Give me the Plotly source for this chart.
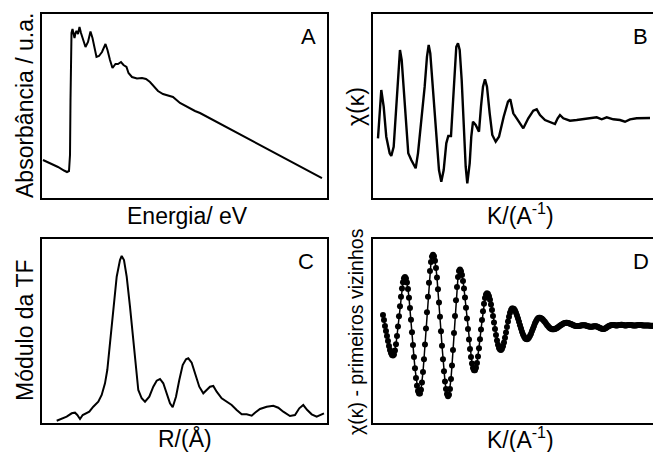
import plotly.graph_objects as go

# ---------------- data (arbitrary units) ----------------
# Panel A: X-ray absorption spectrum
energia = [1, 8, 16, 22, 25, 27, 28, 28.5, 29, 29.5, 30.5, 31.5, 32.5, 33.5, 34.5, 36, 37.5, 39, 41, 43.5,
           46, 48.5, 50.5, 52.5, 54.5, 57, 60, 63.5, 65.5, 68, 70.5, 73.5, 76, 79, 81.5, 84.5, 86.5, 90, 95, 100,
           104, 108, 112, 116, 121, 126, 131, 138, 145, 153, 158, 175, 191, 208, 225, 242, 258, 280]
absorbancia = [38, 35, 31, 27.5, 26, 27, 43, 98, 153, 165, 169, 165, 160, 165, 167, 164, 171, 165, 158, 151,
               156, 166.5, 160, 150, 141, 142, 146, 154, 148, 138, 130, 134, 134, 136, 133, 131, 125, 121, 119.5, 120,
               119, 116, 111, 107, 104, 102.5, 101, 95, 91, 87, 85, 76, 67.5, 58.5, 49.5, 40, 31.5, 20]

# Panel B: chi(k)
k_b = [5, 8.3, 10.7, 13.3, 16.7, 18.3, 20.7, 23.3, 25.3, 27, 28.7, 30.7, 33.3, 35.3, 38.3, 40.7, 42.7, 45, 48.3, 51.7,
       54, 55.7, 57.3, 60, 63.3, 66, 68.3, 70.7, 73.3, 75.3, 78, 79.3, 81.3, 83.3, 85, 86.7, 88.7, 90.7, 92.7, 94.3,
       96.7, 98.3, 100, 102.7, 106, 108, 110, 112, 114, 116.7, 119.3, 122.7, 126, 130.7, 135, 137.3, 140.3, 143.7, 147, 150.3,
       155.3, 160.3, 163.7, 167, 172, 177, 182, 184.7, 187, 190.3, 197, 203.7, 210.3, 217, 223.7, 228.7, 233.7, 240.3, 247, 252,
       257, 263.7, 272, 277]
chi_b = [59.7, 108, 91.3, 61.3, 44.7, 42, 51.3, 91.3, 128, 148, 138, 108, 68, 44.7, 38, 33, 29.7, 44.7, 74.7, 111.3,
         141.3, 153, 144.7, 108, 64.7, 28, 16.3, 28, 54.7, 62, 62, 84.7, 128, 151.3, 154.7, 148, 118, 71.3, 31.3, 14.7,
         34.7, 61.3, 76.3, 73, 66.3, 91.3, 111.3, 118.7, 111.3, 84.7, 63, 56.3, 61.3, 81.3, 96.3, 98.7, 84.7, 79.7, 74.7, 69.7,
         79.7, 87.3, 88.7, 83, 78, 76.3, 74, 79.7, 83, 79.7, 77.3, 78, 78.7, 79.3, 80.7, 78.7, 80.7, 78.7, 78, 76.3,
         78.7, 79.7, 80.3, 80]

# Panel C: modulus of the Fourier transform
r_c = [14.7, 19.7, 24.7, 29.7, 33, 35.3, 38, 40.7, 44, 47.3, 51.3, 56.3, 59.7, 63, 65.3, 68, 71.3, 74.7, 78, 79.7,
       82, 84.7, 88, 91.3, 94, 96.3, 99.7, 103, 107.3, 111.3, 114.7, 118, 121.3, 124.7, 128, 130.7, 134, 137.3, 140.7, 144,
       146.3, 149.7, 153, 157.3, 161.3, 164.7, 168, 171.3, 174.7, 179.7, 184.7, 189.7, 194.7, 199.7, 204.7, 209.7, 213, 218, 224.7, 231.3,
       236.3, 241.3, 248, 253, 257.3, 261.3, 265.3, 269.7, 274.7, 278.7, 282]
modulo_tf = [2.3, 4.7, 6.3, 9.7, 10.3, 8, 4, 8, 9.7, 11.3, 16.3, 21.3, 28, 39.7, 53, 79.7, 116.3, 146.3, 163, 167,
             163, 146.3, 116.3, 83, 53, 33, 24.7, 21.3, 26.3, 36.3, 42.3, 44, 39.7, 29.7, 19.7, 15.7, 26.3, 43, 58, 63.7,
             64.7, 60.3, 49.7, 36.3, 29.7, 33, 36.3, 37, 31.3, 24.7, 21.3, 18, 13, 8.7, 8.7, 7.3, 10.3, 14, 16.3, 17.3,
             15.3, 11.3, 7, 8, 14.7, 18, 13, 8.7, 6.3, 8, 9.7]

# Panel D: chi(k) of first neighbours (one value per k step, k starting at 10)
chi_d = [108, 103, 97, 92, 87, 82, 77, 73, 70, 68, 67.5,
         68.6, 72.6, 78.8, 87, 96.5, 106.7, 116.8, 126.3, 134.5, 140.7, 144.7, 146,
         144.6, 140.6, 134.1, 125.3, 114.9, 103.2, 90.7, 78, 65.9, 54.7, 45, 37.3, 32, 29.4,
         29.5, 33.2, 40.4, 50.9, 63.8, 78.6, 94.6, 110.8, 126.2, 140.3, 152, 160.9, 166.5, 168.3,
         166.8, 162.3, 155.1, 145.4, 133.8, 120.4, 106.3, 91.7, 77.3, 63.8, 51.7, 41.6, 33.9, 28.9, 26.7,
         28.2, 34.1, 44.1, 57.4, 73.1, 90.1, 107.1, 122.8, 136.1, 146.1, 152,
         153.5, 151.8, 148, 142.1, 134.5, 125.4, 115.3, 104.6, 93.9, 83.5, 74.1, 66, 59.5, 55.1, 52.8,
         52.8, 55.2, 59.9, 66.5, 74.7, 83.8, 93.5, 103, 111.8, 119.2, 124.9, 128.5, 129.7,
         129, 126.8, 123.3, 118.6, 113, 106.9, 100.4, 94, 87.9, 82.6, 78.3, 75.1, 73.4,
         73.1, 74.2, 76.8, 80.5, 85.2, 90.5, 96.1, 101.5, 106.2, 110.2, 113.1, 114.5,
         114.6, 113.9, 112.4, 110.3, 107.6, 104.6, 101.3, 97.8, 94.5, 91.3, 88.6, 86.4, 84.8, 83.9,
         83.7, 84.3, 85.4, 87.2, 89.3, 91.9, 94.5, 97.1, 99.7, 101.8, 103.6, 104.7, 105.3,
         105.2, 104.8, 104.2, 103.3, 102.1, 100.9, 99.5, 98.1, 96.9, 95.8, 94.8, 94.2, 93.8,
         93.7, 93.8, 94.1, 94.5, 95.1, 95.7, 96.5, 97.2, 97.9, 98.6, 99.2, 99.7, 100.1, 100.3,
         100.2, 100, 99.7, 99.3, 98.9, 98.4, 98, 97.6, 97.3, 97.1,
         97, 97, 97.1, 97.3, 97.5, 97.7, 97.8, 97.8, 97.7, 97.4,
         97.1, 96.8, 96.5, 96.3, 96.2, 96.3, 96.5, 96.7, 96.8, 96.7,
         96.4, 96, 95.5, 95, 94.6, 94.2, 94, 94.1, 94.4, 95,
         95.7, 96.4, 97, 97.5, 97.8, 98, 98, 97.9, 97.7, 97.6,
         97.6, 97.7, 97.9, 98.1, 98.2, 98.2, 98, 97.8, 97.6, 97.6,
         97.7, 97.9, 98, 98, 97.9, 97.7, 97.5, 97.4, 97.4, 97.5,
         97.7, 97.9, 98, 98, 97.9, 97.7, 97.5, 97.4, 97.4, 97.5,
         97.6, 97.6, 97.5, 97.3, 97.2, 97.2, 97.3]
k_d_start = 10
k_d = list(range(k_d_start, k_d_start + len(chi_d)))

panel_letters = ["A", "B", "C", "D"]
x_titles = ["Energia/ eV", "K/(A<sup>-1</sup>)", "R/(Å)", "K/(A<sup>-1</sup>)"]
y_titles = ["Absorbância / u.a.", "χ(κ)", "Módulo da TF", "χ(κ) - primeiros vizinhos"]

# ---------------- figure ----------------
FONT = "Liberation Sans, Arial, sans-serif"
W, H = 653, 452
ML, MT, MB = 42, 14, 29

fig = go.Figure()
line = dict(color="black", width=2)
fig.add_trace(go.Scatter(x=energia, y=absorbancia, mode="lines", line=line, xaxis="x", yaxis="y"))
fig.add_trace(go.Scatter(x=k_b, y=chi_b, mode="lines", line=dict(color="black", width=2.4), xaxis="x2", yaxis="y2"))
fig.add_trace(go.Scatter(x=r_c, y=modulo_tf, mode="lines", line=line, xaxis="x3", yaxis="y3"))
fig.add_trace(go.Scatter(x=k_d, y=chi_d, mode="lines+markers", line=dict(color="black", width=1.5),
                         marker=dict(color="black", size=6), xaxis="x4", yaxis="y4"))

left_dom = [0, 0.4664]
right_dom = [0.5417, 1]
top_dom = [0.5501, 1]
bot_dom = [0, 0.4499]

def xax(dom, rng, anchor):
    return dict(domain=dom, range=rng, anchor=anchor, showline=True, mirror=True, linecolor="black",
                linewidth=2, showticklabels=False, ticks="", showgrid=False, zeroline=False)

def yax(dom, rng, anchor, mirror):
    return dict(domain=dom, range=rng, anchor=anchor, showline=True, mirror=mirror, linecolor="black",
                linewidth=2, showticklabels=False, ticks="", showgrid=False, zeroline=False)

fig.update_layout(
    width=W, height=H, margin=dict(l=ML, r=0, t=MT, b=MB),
    paper_bgcolor="white", plot_bgcolor="white", showlegend=False,
    font=dict(family=FONT, size=23, color="black"),
    xaxis=xax(left_dom, [0, 285], "y"), yaxis=yax(top_dom, [0, 184], "x", True),
    xaxis2=xax(right_dom, [0, 280], "y2"), yaxis2=yax(top_dom, [0, 184], "x2", False),
    xaxis3=xax(left_dom, [0, 285], "y3"), yaxis3=yax(bot_dom, [0, 184], "x3", True),
    xaxis4=xax(right_dom, [0, 280], "y4"), yaxis4=yax(bot_dom, [0, 184], "x4", False),
)

axnames = [("x", "y"), ("x2", "y2"), ("x3", "y3"), ("x4", "y4")]
letter_shift = [-9, -3, -11, -2]
xtitle_shift = [3, 8, 1, 8]
xtitle_yshift = [-33, -33, -31, -32]
ytitle_size = [23, 23, 23, 19.5]
ann = []
for i, (xa, ya) in enumerate(axnames):
    ann.append(dict(text=panel_letters[i], xref=f"{xa} domain", yref=f"{ya} domain", x=1, y=1,
                    xanchor="right", yanchor="top", xshift=letter_shift[i], yshift=-8,
                    showarrow=False, font=dict(size=22)))
    ann.append(dict(text=x_titles[i], xref=f"{xa} domain", yref=f"{ya} domain", x=0.5, y=0,
                    xanchor="center", yanchor="bottom", xshift=xtitle_shift[i], yshift=xtitle_yshift[i],
                    showarrow=False, font=dict(size=23)))
    ann.append(dict(text=y_titles[i], xref=f"{xa} domain", yref=f"{ya} domain", x=0, y=0.5,
                    xanchor="center", yanchor="middle", xshift=-17, textangle=-90,
                    showarrow=False, font=dict(size=ytitle_size[i])))
fig.update_layout(annotations=ann)

fig.write_html("out.html")
